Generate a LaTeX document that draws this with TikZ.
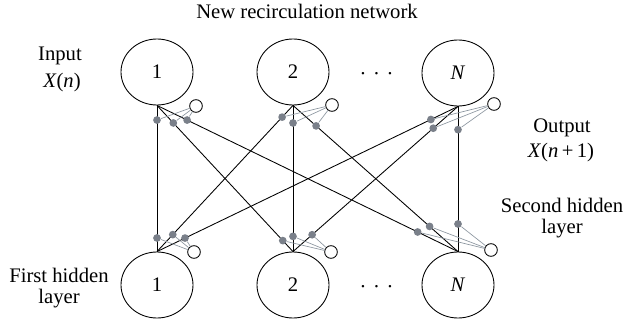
\documentclass[tikz,border=0pt]{standalone}
\usepackage{fontspec}
\setmainfont{Liberation Serif}
\usepackage{xcolor}
\usetikzlibrary{shapes.geometric}

\definecolor{dotgray}{RGB}{122,128,138}
\definecolor{wiregray}{RGB}{140,150,160}

\begin{document}
\begin{tikzpicture}[x=0.75pt,y=0.75pt,yscale=-1,xscale=1,
  unit/.style={ellipse,draw,line width=0.65pt,minimum width=54pt,minimum height=49.5pt,inner sep=0pt,font=\fontsize{15.5}{17}\selectfont},
  bias/.style={circle,draw,line width=0.65pt,minimum size=9.5pt,inner sep=0pt},
  wt/.style={circle,fill=dotgray,minimum size=5.8pt,inner sep=0pt},
  link/.style={line width=0.65pt},
  tap/.style={draw=wiregray,line width=0.5pt},
  lbl/.style={inner sep=0.75pt,font=\fontsize{15.5}{15.5}\selectfont}]
\useasboundingbox (0,0) rectangle (626,325);

%Shape: Ellipse [id:input layer]
\node [unit] (t1) at (157,72) {1};
\node [unit] (t2) at (293,72) {2};
\node [unit] (tN) at (458,73) {\textit{N}};
%Shape: Ellipse [id:first hidden layer]
\node [unit] (b1) at (157,285) {1};
\node [unit] (b2) at (293,285) {2};
\node [unit] (bN) at (458,285) {\textit{N}};

%Shape: Circle [id:bias top]
\node [bias] (ot1) at ([shift={(39,34)}]t1.center) {};
\node [bias] (ot2) at ([shift={(39,33)}]t2.center) {};
\node [bias] (otN) at ([shift={(36,31)}]tN.center) {};
%Shape: Circle [id:bias bottom]
\node [bias] (ob1) at ([shift={(37,-33)}]b1.center) {};
\node [bias] (ob2) at ([shift={(38,-33)}]b2.center) {};
\node [bias] (obN) at ([shift={(33,-35)}]bN.center) {};

%Straight Lines [id:from 1]
\draw [link] (t1.south) -- (b1.north) node [wt,pos=0.10] (w11t) {} node [wt,pos=0.907] (w11b) {};
\draw [link] (t1.south) -- (b2.north) node [wt,pos=0.12] (w12t) {} node [wt,pos=0.925] (w12b) {};
\draw [link] (t1.south) -- (bN.north) node [wt,pos=0.10] (w1Nt) {} node [wt,pos=0.866] (w1Nb) {};
%Straight Lines [id:from 2]
\draw [link] (t2.south) -- (b1.north) node [wt,pos=0.08] (w21t) {} node [wt,pos=0.884] (w21b) {};
\draw [link] (t2.south) -- (b2.north) node [wt,pos=0.12] (w22t) {} node [wt,pos=0.896] (w22b) {};
\draw [link] (t2.south) -- (bN.north) node [wt,pos=0.14] (w2Nt) {} node [wt,pos=0.828] (w2Nb) {};
%Straight Lines [id:from N]
\draw [link] (tN.south) -- (b1.north) node [wt,pos=0.09] (wN1t) {} node [wt,pos=0.907] (wN1b) {};
\draw [link] (tN.south) -- (b2.north) node [wt,pos=0.15] (wN2t) {} node [wt,pos=0.884] (wN2b) {};
\draw [link] (tN.south) -- (bN.north) node [wt,pos=0.16] (wNNt) {} node [wt,pos=0.81] (wNNb) {};

%Straight Lines [id:weights to bias, top]
\draw [tap] (w11t) -- (ot1);  \draw [tap] (w12t) -- (ot1);  \draw [tap] (w1Nt) -- (ot1);
\draw [tap] (w21t) -- (ot2);  \draw [tap] (w22t) -- (ot2);  \draw [tap] (w2Nt) -- (ot2);
\draw [tap] (wN1t) -- (otN);  \draw [tap] (wN2t) -- (otN);  \draw [tap] (wNNt) -- (otN);
%Straight Lines [id:weights to bias, bottom]
\draw [tap] (w11b) -- (ob1);  \draw [tap] (w21b) -- (ob1);  \draw [tap] (wN1b) -- (ob1);
\draw [tap] (w12b) -- (ob2);  \draw [tap] (w22b) -- (ob2);  \draw [tap] (wN2b) -- (ob2);
\draw [tap] (w1Nb) -- (obN);  \draw [tap] (w2Nb) -- (obN);  \draw [tap] (wNNb) -- (obN);

% Text Node
\draw (307,18.5) node [lbl,anchor=base] (title) {New recirculation network};
% Text Node
\draw (60,60.7) node [lbl,anchor=base] (inlbl) {Input};
\draw (62,87) node [lbl,anchor=base] (insig) {\textit{X}(\textit{n})};
% Text Node
\draw (562,132.7) node [lbl,anchor=base] (outlbl) {Output};
\draw (561,157) node [lbl,anchor=base] (outsig) {\textit{X}(\textit{n}\,+\,1)};
% Text Node
\draw (562,218) node [lbl,align=center] (hid2) {Second hidden\\layer};
% Text Node
\draw (59,288) node [lbl,align=center] (hid1) {First hidden\\layer};
% Text Node
\draw (376.5,80) node [lbl,anchor=base] (dotst) {·\hspace{5pt}·\hspace{5pt}·};
\draw (376.5,293) node [lbl,anchor=base] (dotsb) {·\hspace{5pt}·\hspace{5pt}·};

\end{tikzpicture}
\end{document}
